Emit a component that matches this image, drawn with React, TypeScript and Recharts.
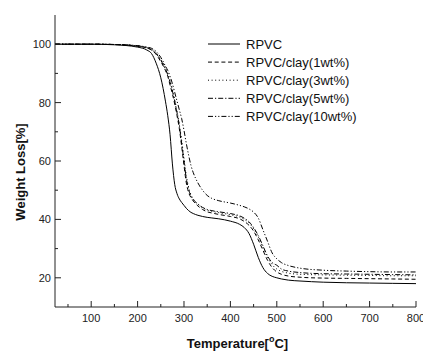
import React from 'react';
import { LineChart, Line, XAxis, YAxis, Legend } from 'recharts';

const temps = [22, 100, 150, 200, 220, 230, 240, 250, 260, 265, 270, 275, 280, 285, 290, 295, 300, 305, 310, 315, 320, 330, 340, 350, 360, 375, 400, 420, 430, 440, 450, 460, 470, 480, 490, 500, 510, 525, 550, 600, 650, 700, 750, 800];

const rpvc = [100, 100, 99.8, 99.0, 98.0, 96.8, 93.5, 88.5, 80.5, 75.5, 69, 59, 52, 48.8, 47, 45.8, 44.8, 43.8, 43, 42.4, 42, 41.4, 41, 40.7, 40.5, 40.2, 39.4, 38.3, 37.2, 35.2, 31.5, 27, 23.5, 21.5, 20.5, 20, 19.6, 19.2, 18.9, 18.5, 18.3, 18.2, 18.1, 18];

const clay1 = [100, 100, 99.9, 99.3, 98.7, 98, 96.5, 94, 91, 89, 86, 83, 79.5, 75.5, 71, 65, 58.5, 52.5, 49.2, 47.5, 46.3, 44.6, 43.4, 42.6, 42.2, 41.7, 41, 40.2, 39.3, 38, 36, 33, 29.5, 26, 23.5, 22, 21.2, 20.6, 20.2, 19.9, 19.8, 19.7, 19.6, 19.5];

const clay3 = [100, 100, 99.9, 99.4, 98.9, 98.3, 97, 94.8, 92, 90, 87.5, 84.5, 81, 77, 72.5, 67, 61, 55, 51, 48.5, 47, 45.3, 44, 43.2, 42.8, 42.3, 41.6, 40.8, 40, 38.8, 36.8, 34, 30.5, 27, 24.5, 23, 22.2, 21.6, 21.2, 21, 20.9, 20.8, 20.7, 20.7];

const clay5 = [100, 100, 99.9, 99.4, 98.8, 98.1, 96.8, 94.5, 91.5, 89.5, 87, 84, 80.5, 76.5, 72, 66, 60, 54, 50.2, 48, 46.8, 45.2, 44.1, 43.4, 43, 42.6, 42, 41.2, 40.4, 39.2, 37.2, 34.5, 31, 27.5, 25.2, 24.3, 23, 22.3, 21.8, 21.4, 21.3, 21.2, 21.1, 21];

const clay10 = [100, 100, 99.9, 99.5, 99, 98.6, 97.5, 95.5, 92.5, 91, 89, 86.5, 83.5, 80.5, 77.5, 74.5, 70.5, 66, 62, 58.5, 56, 52.5, 50, 48.2, 47.2, 46.4, 45.6, 44.8, 44.3, 43.6, 42.5, 40.5, 36.5, 32.5, 28.5, 26.5, 25.2, 24.2, 23.3, 22.6, 22.3, 22.1, 22, 22];

const seriesNames = ['RPVC', 'RPVC/clay(1wt%)', 'RPVC/clay(3wt%)', 'RPVC/clay(5wt%)', 'RPVC/clay(10wt%)'];
const seriesKeys = ['rpvc', 'c1', 'c3', 'c5', 'c10'];
const dashes = ['', '4 2.7', '1 2.6', '5 2 1.2 2', '5 2 1.2 2 1.2 2'];

const xTicks = [50, 100, 150, 200, 250, 300, 350, 400, 450, 500, 550, 600, 650, 700, 750, 800];
const yTicks = [20, 30, 40, 50, 60, 70, 80, 90, 100];

const data = temps.map((t, i) => ({
  t,
  rpvc: rpvc[i],
  c1: clay1[i],
  c3: clay3[i],
  c5: clay5[i],
  c10: clay10[i],
}));

const FONT = 'Arial, "Liberation Sans", sans-serif';
const AX = '#222';

const BottomTick = (props: any) => {
  const { x, y, payload } = props;
  const v = payload.value;
  const major = v % 100 === 0;
  return (
    <g>
      <line x1={x} y1={y} x2={x} y2={y - (major ? 6 : 3)} stroke={AX} strokeWidth={1} />
      {major && (
        <text x={x} y={y + 15} textAnchor="middle" fontSize={11} fill="#222" fontFamily={FONT}>
          {v}
        </text>
      )}
    </g>
  );
};

const TopTick = (props: any) => {
  const { x, y, payload } = props;
  const major = payload.value % 100 === 0;
  return <line x1={x} y1={y} x2={x} y2={y + (major ? 5 : 3)} stroke={AX} strokeWidth={1} />;
};

const LeftTick = (props: any) => {
  const { x, y, payload } = props;
  const v = payload.value;
  const major = v % 20 === 0;
  return (
    <g>
      <line x1={x} y1={y} x2={x + (major ? 6 : 3)} y2={y} stroke={AX} strokeWidth={1} />
      {major && (
        <text x={x - 4} y={y + 4} textAnchor="end" fontSize={11} fill="#222" fontFamily={FONT}>
          {v}
        </text>
      )}
    </g>
  );
};

const RightTick = (props: any) => {
  const { x, y, payload } = props;
  const major = payload.value % 20 === 0;
  return <line x1={x} y1={y} x2={x - (major ? 6 : 3)} y2={y} stroke={AX} strokeWidth={1} />;
};

const YTitle = (props: any) => {
  const vb = props.viewBox || {};
  const cx = 20;
  const cy = vb.y + vb.height / 2 + 11;
  return (
    <text
      x={cx}
      y={cy}
      transform={`rotate(-90 ${cx} ${cy})`}
      textAnchor="middle"
      dominantBaseline="central"
      fontSize={13}
      fontWeight="bold"
      fill="#111"
      fontFamily={FONT}
    >
      Weight Loss[%]
    </text>
  );
};

const XTitle = (props: any) => {
  const vb = props.viewBox || {};
  const cx = vb.x + vb.width / 2 + 2;
  const cy = 348;
  return (
    <text x={cx} y={cy} textAnchor="middle" fontSize={13} fontWeight="bold" fill="#111" fontFamily={FONT}>
      Temperature[
      <tspan fontSize={9} dy={-6}>o</tspan>
      <tspan dy={6}>C]</tspan>
    </text>
  );
};

const LegendContent = () => (
  <svg width={180} height={96} style={{ display: 'block' }}>
    {seriesNames.map((name, i) => {
      const y = 6 + i * 18.1;
      return (
        <g key={name}>
          <line x1={0} y1={y} x2={32} y2={y} stroke="#000" strokeWidth={1} strokeDasharray={dashes[i] || undefined} />
          <text x={38} y={y + 4.5} fontSize={13} fill="#111" fontFamily={FONT}>
            {name}
          </text>
        </g>
      );
    })}
  </svg>
);

export default function App() {
  return (
    <div style={{ position: 'absolute', left: 0, top: 0, width: 423, height: 354, background: '#fff' }}>
      <LineChart width={423} height={354} data={data} margin={{ top: 15, right: 7, bottom: 0, left: 0 }}>
        <XAxis
          xAxisId="b"
          dataKey="t"
          type="number"
          domain={[22, 800]}
          allowDataOverflow
          ticks={xTicks}
          interval={0}
          height={47}
          tickSize={0}
          tickMargin={0}
          tickLine={false}
          tick={<BottomTick />}
          axisLine={{ stroke: AX, strokeWidth: 1 }}
          label={<XTitle />}
        />
        <XAxis
          xAxisId="top"
          orientation="top"
          dataKey="t"
          type="number"
          domain={[22, 800]}
          allowDataOverflow
          ticks={xTicks}
          interval={0}
          height={0}
          tickSize={0}
          tickMargin={0}
          tickLine={false}
          tick={<TopTick />}
          axisLine={{ stroke: AX, strokeWidth: 1 }}
        />
        <YAxis
          yAxisId="l"
          type="number"
          domain={[10, 110]}
          allowDataOverflow
          ticks={yTicks}
          interval={0}
          width={55}
          tickSize={0}
          tickMargin={0}
          tickLine={false}
          tick={<LeftTick />}
          axisLine={{ stroke: AX, strokeWidth: 1 }}
          label={<YTitle />}
        />
        <YAxis
          yAxisId="r"
          orientation="right"
          type="number"
          domain={[10, 110]}
          allowDataOverflow
          ticks={yTicks}
          interval={0}
          width={0}
          tickSize={0}
          tickMargin={0}
          tickLine={false}
          tick={<RightTick />}
          axisLine={{ stroke: AX, strokeWidth: 1 }}
        />
        <Line
          xAxisId="top"
          yAxisId="r"
          dataKey="rpvc"
          stroke="none"
          dot={false}
          activeDot={false}
          legendType="none"
          isAnimationActive={false}
        />
        {seriesKeys.map((k, i) => (
          <Line
            key={k}
            xAxisId="b"
            yAxisId="l"
            type="monotone"
            dataKey={k}
            name={seriesNames[i]}
            stroke="#000"
            strokeWidth={1}
            strokeDasharray={dashes[i] || undefined}
            dot={false}
            activeDot={false}
            isAnimationActive={false}
          />
        ))}
        <Legend
          layout="vertical"
          align="center"
          verticalAlign="middle"
          content={<LegendContent />}
          wrapperStyle={{ left: 208, top: 38, width: 180, height: 96 }}
        />
      </LineChart>
    </div>
  );
}
